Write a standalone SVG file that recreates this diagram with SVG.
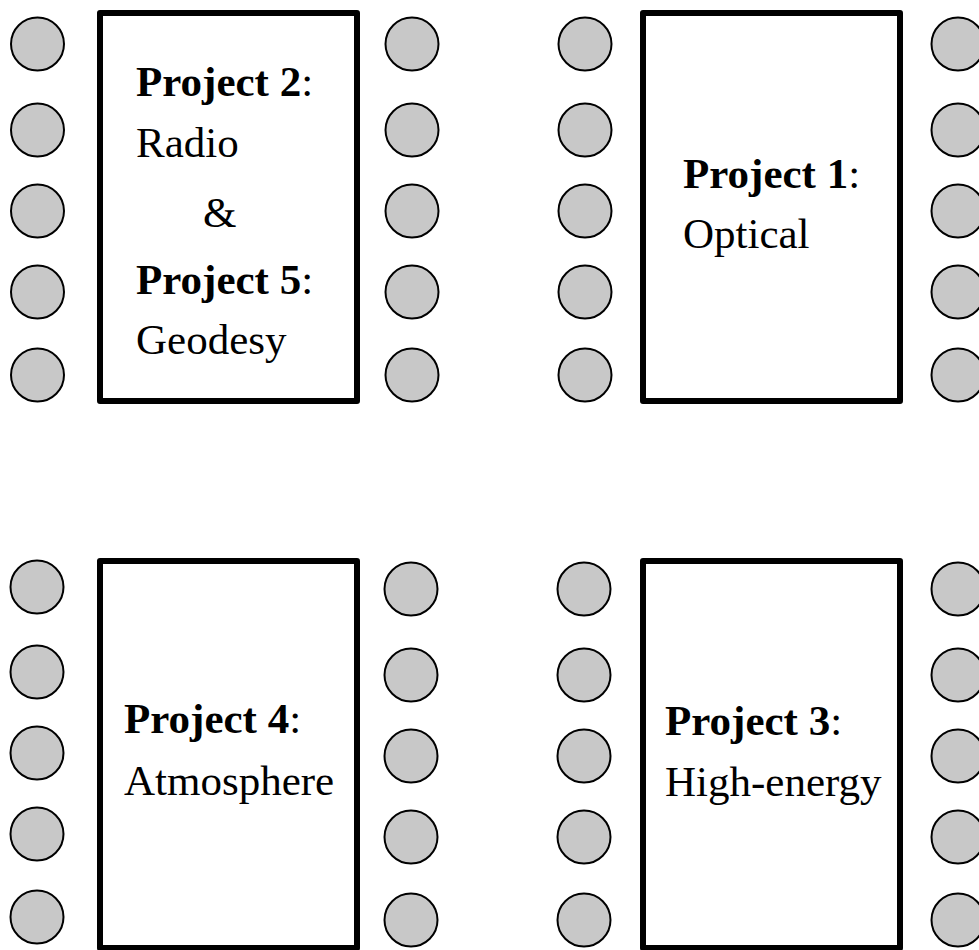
<svg xmlns="http://www.w3.org/2000/svg" width="979" height="950" viewBox="0 0 979 950">
<style>
.table{fill:#ffffff;stroke:#000000;stroke-width:6;stroke-linejoin:round}
.chair{fill:#c8c8c8;stroke:#000000;stroke-width:2}
.t{font-family:"Liberation Serif","Times New Roman",serif;font-size:43px;fill:#000000}
.b{font-weight:bold}
</style>
<rect width="979" height="950" fill="#ffffff"/>
<defs>
<circle id="c" class="chair" r="26.5"/>
</defs>
<g id="connectors"></g>
<g id="table-p2-p5">
<rect class="table" x="100" y="13" width="257" height="388"/>
<text class="t" x="136" y="96"><tspan class="b">Project 2</tspan>:</text>
<text class="t" x="136" y="157">Radio</text>
<text class="t" x="203" y="227">&amp;</text>
<text class="t" x="136" y="294"><tspan class="b">Project 5</tspan>:</text>
<text class="t" x="136" y="354">Geodesy</text>
</g>
<g id="chairs-p2-p5">
<use href="#c" x="37.5" y="44"/><use href="#c" x="37.5" y="130"/><use href="#c" x="37.5" y="211"/><use href="#c" x="37.5" y="292"/><use href="#c" x="37.5" y="375"/>
<use href="#c" x="412" y="44"/><use href="#c" x="412" y="130"/><use href="#c" x="412" y="211"/><use href="#c" x="412" y="292"/><use href="#c" x="412" y="375"/>
</g>
<g id="table-p1">
<rect class="table" x="643" y="13" width="257" height="388"/>
<text class="t" x="683" y="188"><tspan class="b">Project 1</tspan>:</text>
<text class="t" x="683" y="248">Optical</text>
</g>
<g id="chairs-p1">
<use href="#c" x="585" y="44"/><use href="#c" x="585" y="130"/><use href="#c" x="585" y="211"/><use href="#c" x="585" y="292"/><use href="#c" x="585" y="375"/>
<use href="#c" x="958" y="44"/><use href="#c" x="958" y="130"/><use href="#c" x="958" y="211"/><use href="#c" x="958" y="292"/><use href="#c" x="958" y="375"/>
</g>
<g id="table-p4">
<rect class="table" x="100" y="561" width="257" height="387"/>
<text class="t" x="124" y="733"><tspan class="b">Project 4</tspan>:</text>
<text class="t" x="124" y="795">Atmosphere</text>
</g>
<g id="chairs-p4">
<use href="#c" x="37" y="587"/><use href="#c" x="37" y="672"/><use href="#c" x="37" y="753"/><use href="#c" x="37" y="834"/><use href="#c" x="37" y="917"/>
<use href="#c" x="411" y="589"/><use href="#c" x="411" y="675"/><use href="#c" x="411" y="756"/><use href="#c" x="411" y="837"/><use href="#c" x="411" y="920"/>
</g>
<g id="table-p3">
<rect class="table" x="643" y="561" width="257" height="387"/>
<text class="t" x="665" y="735"><tspan class="b">Project 3</tspan>:</text>
<text class="t" x="665" y="796">High-energy</text>
</g>
<g id="chairs-p3">
<use href="#c" x="584" y="589"/><use href="#c" x="584" y="675"/><use href="#c" x="584" y="756"/><use href="#c" x="584" y="837"/><use href="#c" x="584" y="920"/>
<use href="#c" x="958" y="589"/><use href="#c" x="958" y="675"/><use href="#c" x="958" y="756"/><use href="#c" x="958" y="837"/><use href="#c" x="958" y="920"/>
</g>
</svg>
